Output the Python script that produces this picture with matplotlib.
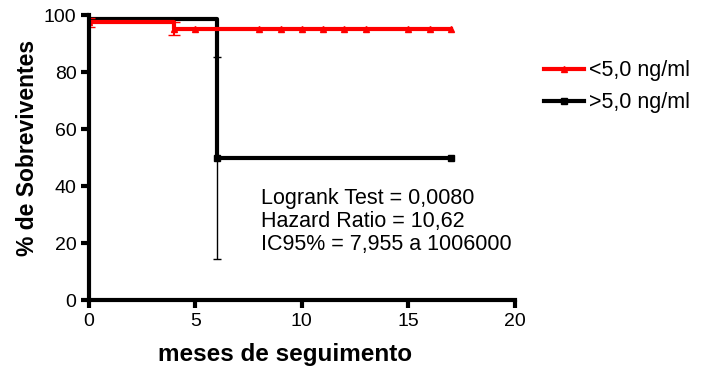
import matplotlib.pyplot as plt
from matplotlib.lines import Line2D

plt.rcParams['font.family'] = ['Liberation Sans', 'DejaVu Sans']

# Kaplan-Meier steps
low_t = [0, 4, 17]
low_s = [97.5, 95.3, 95.3]
low_err_t = [0, 4]
low_err_s = [97.5, 95.3]
low_err = [1.5, 2.3]
low_cens = [0, 4, 5, 8, 9, 10, 11, 12, 13, 15, 16, 17]

high_t = [0, 6, 17]
high_s = [98.5, 50, 50]
high_err_t = [6]
high_err_lo = [35.5]
high_err_hi = [35.5]
high_cens = [6, 17]

labels = ['<5,0 ng/ml', '>5,0 ng/ml']

fig = plt.figure(figsize=(7.17, 3.8), dpi=100)
ax = fig.add_axes([0.124, 0.21, 0.594, 0.75])

ax.step(high_t, high_s, where='post', color='black', lw=3, solid_joinstyle='round')
ax.errorbar(high_err_t, [50], yerr=[high_err_lo, high_err_hi], fmt='none',
            ecolor='black', elinewidth=1, capsize=3)
ax.plot(high_cens, [50] * len(high_cens), 's', color='black', ms=5)

ax.step(low_t, low_s, where='post', color='red', lw=3)
ax.errorbar(low_err_t, low_err_s, yerr=low_err, fmt='none',
            ecolor='red', elinewidth=1.5, capsize=4)
cens_y = [97.5 if t < 4 else 95.3 for t in low_cens]
ax.plot(low_cens, cens_y, '^', color='red', ms=5)

ax.set_xlim(0, 20)
ax.set_ylim(0, 100)
ax.set_xticks([0, 5, 10, 15, 20])
ax.set_yticks([0, 20, 40, 60, 80, 100])
for s in ['top', 'right']:
    ax.spines[s].set_visible(False)
for s in ['left', 'bottom']:
    ax.spines[s].set_linewidth(3)
ax.tick_params(width=3, length=6, labelsize=14, pad=3)

ax.set_ylabel('% de Sobreviventes', fontsize=16.5, fontweight='bold')
ax.yaxis.set_label_coords(-0.118, 0.535)
ax.set_xlabel('meses de seguimento', fontsize=17.5, fontweight='bold')
ax.xaxis.set_label_coords(0.46, -0.15)

ax.text(8.1, 39.5, 'Logrank Test = 0,0080\nHazard Ratio = 10,62\nIC95% = 7,955 a 1006000',
        fontsize=15.5, va='top', linespacing=1.15)

handles = [Line2D([], [], color='red', lw=3, marker='^', ms=4),
           Line2D([], [], color='black', lw=3, marker='s', ms=4)]
fig.legend(handles, labels, loc='upper left', bbox_to_anchor=(0.731, 0.892),
           frameon=False, fontsize=15.5, handlelength=1.9, handletextpad=0.2,
           labelspacing=0.5)

fig.savefig('out.png', dpi=100)
